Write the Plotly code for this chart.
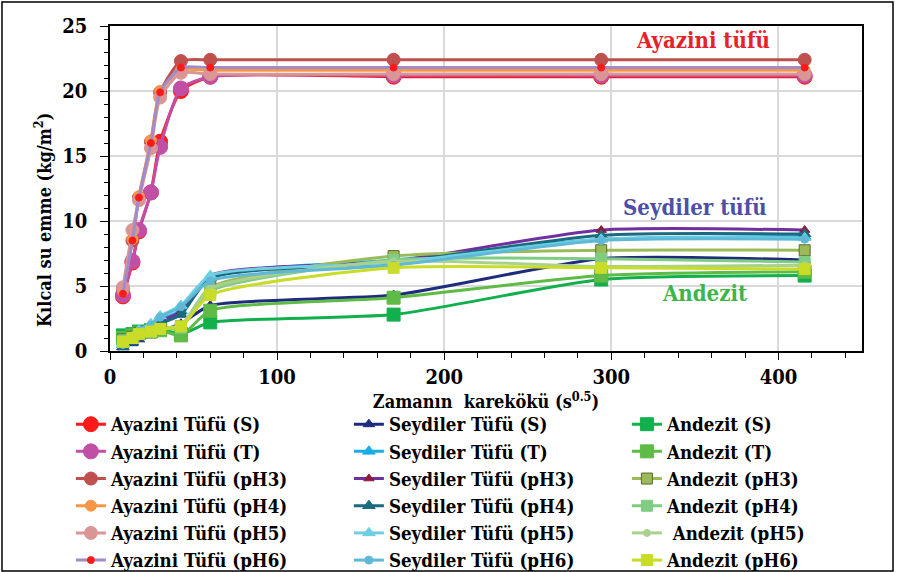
import plotly.graph_objects as go

# sqrt(time) x values
x_vals = [7.75, 13.42, 17.32, 24.49, 30.0, 42.43, 60.0, 169.71, 293.94, 415.69]

ayazini_S   = [4.2, 6.8, 9.2, 12.2, 16.1, 20.0, 21.1, 21.1, 21.1, 21.1]
ayazini_T   = [4.3, 6.9, 9.3, 12.2, 15.7, 20.2, 21.1, 21.2, 21.2, 21.2]
ayazini_pH3 = [4.8, 8.5, 11.8, 16.1, 19.9, 22.3, 22.4, 22.4, 22.4, 22.4]
ayazini_pH4 = [4.6, 8.6, 11.9, 16.2, 20.0, 21.6, 21.6, 21.6, 21.6, 21.6]
ayazini_pH5 = [4.9, 9.3, 11.6, 15.6, 19.5, 21.4, 21.3, 21.3, 21.3, 21.3]
ayazini_pH6 = [4.4, 8.5, 11.8, 16.0, 19.9, 21.8, 21.8, 21.8, 21.8, 21.8]

seydiler_S   = [0.3, 0.6, 0.9, 1.2, 1.5, 2.1, 3.5, 4.3, 7.1, 7.0]
seydiler_T   = [0.5, 0.9, 1.4, 1.9, 2.4, 3.1, 5.7, 7.0, 8.6, 8.8]
seydiler_pH3 = [0.4, 0.8, 1.3, 1.8, 2.3, 3.0, 5.8, 6.9, 9.3, 9.3]
seydiler_pH4 = [0.3, 0.7, 1.1, 1.6, 2.1, 2.8, 5.6, 6.8, 8.9, 9.0]
seydiler_pH5 = [0.6, 1.1, 1.6, 2.1, 2.7, 3.5, 5.8, 6.8, 8.6, 8.7]
seydiler_pH6 = [0.5, 1.0, 1.5, 2.0, 2.6, 3.4, 5.4, 6.6, 8.5, 8.6]

andezit_S   = [1.2, 1.3, 1.5, 1.6, 1.7, 1.3, 2.2, 2.8, 5.5, 5.8]
andezit_T   = [1.0, 1.2, 1.4, 1.5, 1.6, 1.2, 3.1, 4.1, 5.8, 6.1]
andezit_pH3 = [0.9, 1.1, 1.4, 1.6, 1.8, 1.9, 4.9, 7.3, 7.75, 7.75]
andezit_pH4 = [0.8, 1.0, 1.3, 1.5, 1.7, 1.8, 4.6, 7.0, 7.1, 6.85]
andezit_pH5 = [0.7, 1.0, 1.2, 1.5, 1.7, 2.0, 4.8, 6.9, 6.5, 6.6]
andezit_pH6 = [0.7, 1.0, 1.3, 1.5, 1.7, 1.9, 4.3, 6.4, 6.4, 6.3]

series_names = [
    "Ayazini Tüfü (S)", "Seydiler Tüfü (S)", "Andezit (S)",
    "Ayazini Tüfü (T)", "Seydiler Tüfü (T)", "Andezit (T)",
    "Ayazini Tüfü (pH3)", "Seydiler Tüfü (pH3)", "Andezit (pH3)",
    "Ayazini Tüfü (pH4)", "Seydiler Tüfü (pH4)", "Andezit (pH4)",
    "Ayazini Tüfü (pH5)", "Seydiler Tüfü (pH5)", " Andezit (pH5)",
    "Ayazini Tüfü (pH6)", "Seydiler Tüfü (pH6)", "Andezit (pH6)",
]
series_values = [
    ayazini_S, seydiler_S, andezit_S,
    ayazini_T, seydiler_T, andezit_T,
    ayazini_pH3, seydiler_pH3, andezit_pH3,
    ayazini_pH4, seydiler_pH4, andezit_pH4,
    ayazini_pH5, seydiler_pH5, andezit_pH5,
    ayazini_pH6, seydiler_pH6, andezit_pH6,
]
# (line colour, marker symbol, marker size, marker fill, marker outline)
styles = [
    ("#FF1A1A", "circle", 15, "#FF1A1A", "#FF1A1A"),
    ("#1F2C7C", "triangle-up", 10, "#1F2C7C", "#1F2C7C"),
    ("#12B04C", "square", 13, "#12B04C", "#12B04C"),
    ("#C24FA6", "circle", 15, "#C24FA6", "#C24FA6"),
    ("#1AAEE6", "triangle-up", 11, "#1AAEE6", "#1AAEE6"),
    ("#5DBB46", "square", 13, "#5DBB46", "#5DBB46"),
    ("#C0504D", "circle", 13, "#C0504D", "#C0504D"),
    ("#7030A0", "triangle-up", 9, "#8E1B3E", "#8E1B3E"),
    ("#9BBB59", "square", 11, "#9BBB59", "#5A6B2E"),
    ("#F79646", "circle", 11, "#F79646", "#F79646"),
    ("#1B6A7E", "triangle-up", 11, "#1B6A7E", "#1B6A7E"),
    ("#7FCC82", "square", 11, "#7FCC82", "#7FCC82"),
    ("#DA9694", "circle", 13, "#DA9694", "#DA9694"),
    ("#6FCFE2", "triangle-up", 11, "#6FCFE2", "#6FCFE2"),
    ("#A9D18E", "circle", 7, "#A9D18E", "#A9D18E"),
    ("#A08CC8", "circle", 7, "#FF1A1A", "#FF1A1A"),
    ("#5FB9D6", "circle", 8, "#5FB9D6", "#5FB9D6"),
    ("#C8DC28", "square", 11, "#C8DC28", "#C8DC28"),
]

fig = go.Figure()
for name, vals, (lc, sym, ms, mf, mo) in zip(series_names, series_values, styles):
    fig.add_trace(go.Scatter(
        x=x_vals, y=vals, name="<b>" + name + "</b>", mode="lines+markers",
        line=dict(color=lc, width=3, shape="spline", smoothing=0.6),
        marker=dict(symbol=sym, size=ms, color=mf, line=dict(color=mo, width=1)),
    ))

serif = "DejaVu Serif Condensed, DejaVu Serif"
fig.update_layout(
    width=904, height=572,
    margin=dict(l=110, r=42, t=26, b=221, autoexpand=False),
    paper_bgcolor="white", plot_bgcolor="white",
    font=dict(family=serif, color="black"),
    showlegend=True,
    legend=dict(
        orientation="h", x=-0.052, xanchor="left", y=-0.168, yanchor="top",
        entrywidth=233, font=dict(family=serif, size=18.6, color="black"),
        bgcolor="rgba(0,0,0,0)",
    ),
    xaxis=dict(
        range=[0, 450], dtick=100, tick0=0, automargin=False,
        showgrid=True, gridcolor="#D9D9D9", gridwidth=1.5,
        showline=True, linecolor="black", linewidth=1.5, mirror=True,
        ticks="outside", ticklen=7, tickcolor="black",
        minor=dict(dtick=20, ticks="outside", ticklen=5, tickcolor="black", showgrid=False),
        tickfont=dict(family=serif, size=20, color="black", weight="bold"),
        title=dict(text="<b>Zamanın  karekökü (s<sup>0.5</sup>)</b>",
                   font=dict(family=serif, size=18, color="black"), standoff=2),
        zeroline=False,
    ),
    yaxis=dict(
        range=[0, 25], dtick=5, automargin=False,
        showgrid=True, gridcolor="#D9D9D9", gridwidth=1.5,
        showline=True, linecolor="black", linewidth=1.5, mirror=True,
        ticks="outside", ticklen=8, tickcolor="black", ticklabelstandoff=9,
        minor=dict(dtick=1, ticks="outside", ticklen=4, tickcolor="black", showgrid=False),
        tickfont=dict(family=serif, size=20, color="black", weight="bold"),
        zeroline=False,
    ),
)

# y axis title, placed as in the reference (below the plot-area centre)
fig.add_annotation(xref="paper", yref="paper", x=(43 - 110) / 752.0, y=(351 - 220) / 325.0,
                   text="<b>Kılcal su emme (kg/m<sup>2</sup>)</b>", textangle=-90,
                   showarrow=False, xanchor="center", yanchor="middle",
                   font=dict(family=serif, size=18, color="black"))

fig.add_annotation(x=355, y=23.9, text="<b>Ayazini tüfü</b>", showarrow=False,
                   font=dict(family=serif, size=22, color="#E8202A"))
fig.add_annotation(x=350, y=11.05, text="<b>Seydiler tüfü</b>", showarrow=False,
                   font=dict(family=serif, size=22, color="#4B4FA8"))
fig.add_annotation(x=356, y=4.45, text="<b>Andezit</b>", showarrow=False,
                   font=dict(family=serif, size=22, color="#3DB54A"))

# outer chart border
pw, ph = 752.0, 325.0
fig.add_shape(type="rect", xref="paper", yref="paper",
              x0=(2 - 110) / pw, x1=(893 - 110) / pw,
              y0=(351 - 571) / ph, y1=(351 - 2) / ph,
              line=dict(color="black", width=1.5), fillcolor="rgba(0,0,0,0)", layer="below")

fig.write_html("out.html", config={"displayModeBar": False},
               post_script="document.body.style.margin='0';document.body.style.overflow='hidden';")
